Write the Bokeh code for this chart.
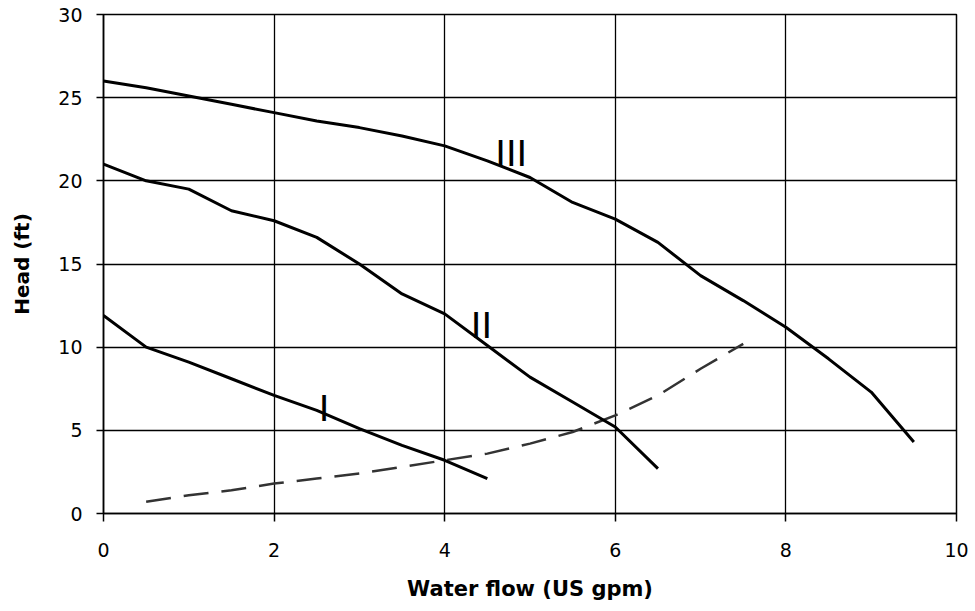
from bokeh.plotting import figure
from bokeh.models import Range1d, FixedTicker, ColumnDataSource
from bokeh.core.properties import value
from bokeh.embed import file_html
from bokeh.resources import INLINE

# Pump curves (head in ft vs flow in US gpm)
flow_I = [0, 0.5, 1, 1.5, 2, 2.5, 3, 3.5, 4, 4.5]
head_I = [11.9, 10.0, 9.1, 8.1, 7.1, 6.2, 5.1, 4.1, 3.2, 2.1]

flow_II = [0, 0.5, 1, 1.5, 2, 2.5, 3, 3.5, 4, 4.5, 5, 5.5, 6, 6.5]
head_II = [21.0, 20.0, 19.5, 18.2, 17.6, 16.6, 15.0, 13.2, 12.0, 10.1, 8.2, 6.7, 5.2, 2.7]

flow_III = [0, 0.5, 1, 1.5, 2, 2.5, 3, 3.5, 4, 4.5, 5, 5.5, 6, 6.5, 7, 7.5, 8, 8.5, 9, 9.5]
head_III = [26.0, 25.6, 25.1, 24.6, 24.1, 23.6, 23.2, 22.7, 22.1, 21.2, 20.2, 18.7,
            17.7, 16.3, 14.3, 12.8, 11.2, 9.3, 7.3, 4.3]

# System curve (dashed)
flow_sys = [0.5, 1, 1.5, 2, 2.5, 3, 3.5, 4, 4.5, 5, 5.5, 6, 6.5, 7, 7.5]
head_sys = [0.7, 1.1, 1.4, 1.8, 2.1, 2.4, 2.8, 3.2, 3.6, 4.2, 4.9, 5.9, 7.1, 8.7, 10.2]

# Curve labels
label_text = ["I", "II", "III"]
label_x = [2.585, 4.43, 4.78]
label_y = [6.3, 11.3, 21.65]

x_ticks = [0, 2, 4, 6, 8, 10]
y_ticks = [0, 5, 10, 15, 20, 25, 30]

FONT = "DejaVu Sans"

p = figure(width=971, height=603, output_backend="svg", toolbar_location=None,
           x_range=Range1d(0, 10), y_range=Range1d(0, 30),
           min_border_left=103, min_border_right=15, min_border_top=14,
           min_border_bottom=90)
p.background_fill_color = "white"
p.border_fill_color = "white"
p.outline_line_color = "black"
p.outline_line_width = 1.5

for ax in (p.xaxis[0], p.yaxis[0]):
    ax.axis_line_color = "black"
    ax.axis_line_width = 1.5
    ax.major_tick_line_color = "black"
    ax.major_tick_line_width = 1.5
    ax.major_tick_in = 0
    ax.minor_tick_line_color = None
    ax.major_label_text_font = FONT
    ax.major_label_text_font_size = "19px"
    ax.major_label_text_color = "black"
    ax.axis_label_text_font = FONT
    ax.axis_label_text_font_style = "bold"
    ax.axis_label_text_color = "black"

p.xaxis.ticker = FixedTicker(ticks=x_ticks)
p.yaxis.ticker = FixedTicker(ticks=y_ticks)
p.xaxis.major_tick_out = 8
p.yaxis.major_tick_out = 7
p.xaxis.major_label_standoff = 21
p.yaxis.major_label_standoff = 14
p.xaxis.axis_label = "Water flow (US gpm)"
p.yaxis.axis_label = "Head (ft)"
p.xaxis.axis_label_text_font_size = "21px"
p.yaxis.axis_label_text_font_size = "20px"
p.xaxis.axis_label_standoff = 17
p.yaxis.axis_label_standoff = 21

p.xgrid.ticker = FixedTicker(ticks=x_ticks)
p.ygrid.ticker = FixedTicker(ticks=y_ticks)
for g in (p.xgrid[0], p.ygrid[0]):
    g.grid_line_color = "black"
    g.grid_line_width = 1.3
    g.grid_line_alpha = 1.0

p.line(flow_sys, head_sys, line_color="#333333", line_width=2.5, line_dash="25 13")
p.line(flow_I, head_I, line_color="black", line_width=3)
p.line(flow_II, head_II, line_color="black", line_width=3)
p.line(flow_III, head_III, line_color="black", line_width=3)

src = ColumnDataSource(dict(x=label_x, y=label_y, t=label_text))
p.text(x="x", y="y", text="t", source=src, text_font=value(FONT),
       text_font_size="36px", text_align="center", text_baseline="alphabetic",
       text_color="black")

open("out.html", "w").write(file_html(p, INLINE))
